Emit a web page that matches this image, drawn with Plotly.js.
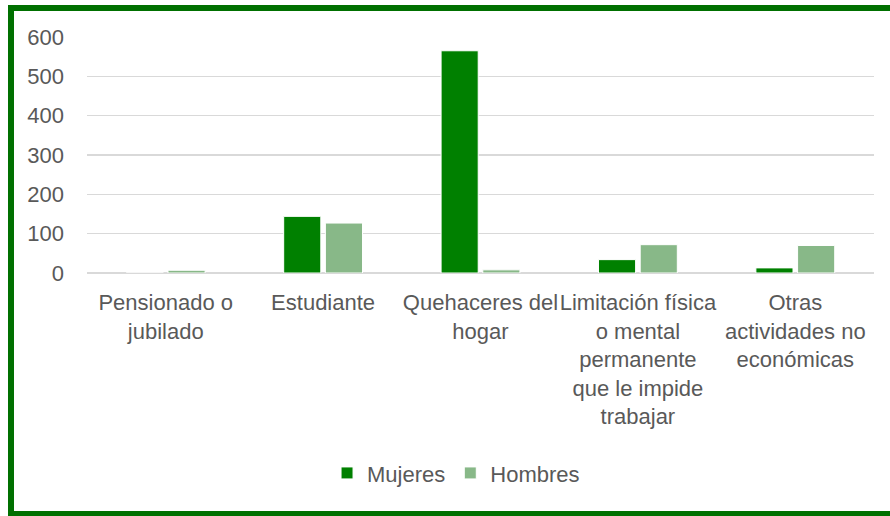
<!DOCTYPE html>
<html>
<head>
<meta charset="utf-8">
<script src="https://cdn.plot.ly/plotly-3.0.1.min.js"></script>
<style>
html,body{margin:0;padding:0;background:#fff;}
#wrap{position:relative;width:890px;height:516px;overflow:hidden;}
#chart{position:absolute;left:0;top:0;width:890px;height:516px;}
#frame{position:absolute;left:8px;top:5px;width:900px;height:500px;border:6px solid #007000;pointer-events:none;}
</style>
</head>
<body>
<div id="wrap"><div id="chart"></div><div id="frame"></div></div>
<script>
const categories = [
  "Pensionado o<br>jubilado",
  "Estudiante",
  "Quehaceres del<br>hogar",
  "Limitación física<br>o mental<br>permanente<br>que le impide<br>trabajar",
  "Otras<br>actividades no<br>económicas"
];
const mujeres = [0, 144, 565, 34, 13];
const hombres = [7, 127, 8, 72, 70];
const yTicks = [0, 100, 200, 300, 400, 500, 600];

const font = {family: "Liberation Sans, Arial, sans-serif", size: 22, color: "#595959"};

const data = [
  {type: "bar", name: "Mujeres", x: categories, y: mujeres,
   marker: {color: "#008000", line: {color: "#ffffff", width: 1}}},
  {type: "bar", name: "Hombres", x: categories, y: hombres,
   marker: {color: "#88b888", line: {color: "#ffffff", width: 1}}}
];

const layout = {
  width: 890, height: 516,
  margin: {l: 87, r: 16, t: 37, b: 242.5},
  paper_bgcolor: "#ffffff", plot_bgcolor: "#ffffff",
  font: font,
  barmode: "group",
  bargap: 0.47,
  bargroupgap: 0.11,
  showlegend: true,
  legend: {orientation: "h", x: 0.305, xanchor: "left", y: -0.848, yanchor: "middle",
           font: font, itemwidth: 30, traceorder: "normal"},
  xaxis: {type: "category", showgrid: false, zeroline: false, showline: false,
          ticks: "", tickfont: font, tickangle: 0, automargin: false, ticklabelstandoff: 14},
  yaxis: {range: [0, 600], tickvals: yTicks, ticktext: yTicks.map(String),
          showgrid: true, gridcolor: "#d9d9d9", gridwidth: 1.5,
          zeroline: true, zerolinecolor: "#d9d9d9", zerolinewidth: 1.5,
          showline: false, ticks: "", tickfont: font, ticklabelstandoff: 22, automargin: false}
};

Plotly.newPlot("chart", data, layout, {staticPlot: true, displayModeBar: false});
</script>
</body>
</html>
